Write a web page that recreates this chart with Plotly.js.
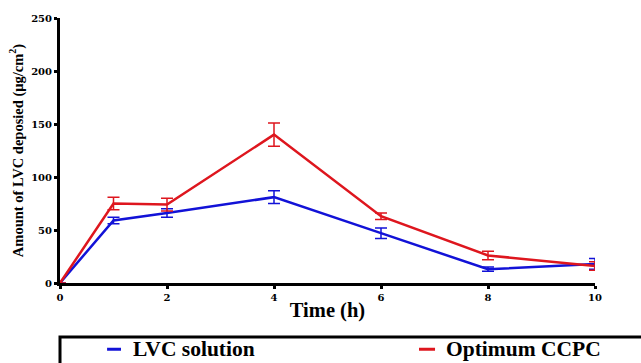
<!DOCTYPE html>
<html>
<head>
<meta charset="utf-8">
<script src="https://cdn.plot.ly/plotly-3.0.1.min.js"></script>
<style>html,body{margin:0;padding:0;background:#fff;}#chart{width:641px;height:363px;}</style>
</head>
<body>
<div id="chart"></div>
<script>
const timeH = [0, 1, 2, 4, 6, 8, 10];
const seriesNames = ['LVC solution', 'Optimum CCPC'];
const lvcSolution = [0, 59, 66, 81, 47, 13, 18];
const lvcSolutionErr = [0, 3, 4, 6, 5, 2, 5];
const optimumCCPC = [0, 75, 74, 140, 63, 26, 16];
const optimumCCPCErr = [0, 6, 6, 11, 3, 4, 4];
const xTicks = [0, 2, 4, 6, 8, 10];
const yTicks = [0, 50, 100, 150, 200, 250];

const blue = 'rgb(18,18,215)';
const red = 'rgb(222,22,30)';
const colors = [blue, red];

const traces = [
  {
    x: timeH, y: lvcSolution, name: seriesNames[0], type: 'scatter', mode: 'lines',
    line: {color: blue, width: 2.5},
    error_y: {type: 'data', array: lvcSolutionErr, visible: true, color: blue, thickness: 1.5, width: 6}
  },
  {
    x: timeH, y: optimumCCPC, name: seriesNames[1], type: 'scatter', mode: 'lines',
    line: {color: red, width: 2.5},
    error_y: {type: 'data', array: optimumCCPCErr, visible: true, color: red, thickness: 1.5, width: 6}
  }
];

const tickFont = {family: 'DejaVu Serif', size: 10, color: '#000', weight: 700};
const legendFont = {family: 'Liberation Serif', size: 21.5, color: '#000', weight: 700};

// manual legend (placement in paper fractions)
const legY = -0.25;
const legSampleX = [[0.088, 0.114], [0.671, 0.701]];
const legTextX = [0.133, 0.718];

const shapes = [
  {type: 'rect', xref: 'paper', yref: 'paper', x0: 0, x1: 1.3, y0: -0.204, y1: -0.6,
   line: {color: '#000', width: 3}, fillcolor: 'rgba(0,0,0,0)'}
];
const annotations = [];
seriesNames.forEach((n, i) => {
  shapes.push({type: 'line', xref: 'paper', yref: 'paper', x0: legSampleX[i][0], x1: legSampleX[i][1],
    y0: legY, y1: legY, line: {color: colors[i], width: 3}});
  annotations.push({xref: 'paper', yref: 'paper', x: legTextX[i], y: legY, xanchor: 'left', yanchor: 'middle',
    text: n, showarrow: false, font: legendFont});
});

const layout = {
  width: 641, height: 363,
  margin: {l: 60, r: 46, t: 18, b: 80},
  paper_bgcolor: '#fff', plot_bgcolor: '#fff',
  showlegend: false,
  xaxis: {
    range: [0, 10], tickvals: xTicks, ticktext: xTicks.map(String),
    showgrid: false, zeroline: false, showline: true, linecolor: '#000', linewidth: 3,
    ticks: 'outside', ticklen: 3, tickwidth: 3, tickcolor: '#000',
    tickfont: tickFont,
    title: {text: 'Time (h)', font: {family: 'Liberation Serif', size: 20.5, color: '#000', weight: 700}, standoff: 1}
  },
  yaxis: {
    range: [0, 250], tickvals: yTicks, ticktext: yTicks.map(String),
    showgrid: false, zeroline: false, showline: true, linecolor: '#000', linewidth: 3,
    ticks: 'outside', ticklen: 3, tickwidth: 3, tickcolor: '#000',
    tickfont: tickFont,
    title: {text: 'Amount of LVC deposied (μg/cm<sup>2</sup>)', font: {family: 'Liberation Serif', size: 14.5, color: '#000', weight: 700}, standoff: 5}
  },
  shapes: shapes,
  annotations: annotations
};

Plotly.newPlot('chart', traces, layout, {displayModeBar: false, staticPlot: true});
</script>
</body>
</html>
